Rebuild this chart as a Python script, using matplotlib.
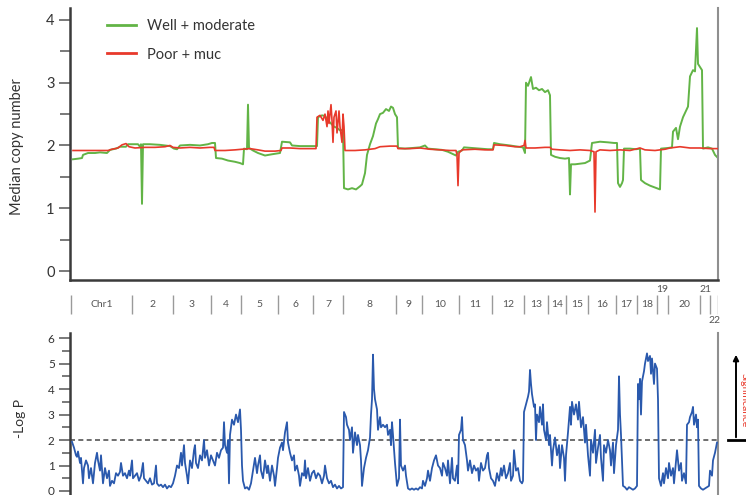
import numpy as np
import matplotlib
matplotlib.use("Agg")
import matplotlib.pyplot as plt
from matplotlib.ticker import MultipleLocator

plt.rcParams['font.family'] = ['Lato', 'DejaVu Sans']

# ---------------------------------------------------------------- data
# Chromosome boundaries along the genome position axis (bins)
chrom_names = ['Chr1', '2', '3', '4', '5', '6', '7', '8', '9', '10', '11',
               '12', '13', '14', '15', '16', '17', '18', '19', '20', '21', '22']
chrom_edges = [1, 62, 103, 141, 171, 208, 243, 273, 326, 352, 389, 422, 454,
               478, 496, 518, 546, 567, 587, 598, 630, 640, 648]
# label row: 0 = in line, 1 = raised, -1 = lowered (narrow chromosomes)
chrom_label_row = [0] * 18 + [1, 0, 1, -1]

# Median copy number, well + moderately differentiated tumours
well_pos = [3, 8, 12, 13, 18, 25, 30, 37, 40, 46, 50, 56, 58, 63, 68, 70, 71, 72, 73,
            80, 90, 100, 104, 107, 110, 120, 130, 138, 142, 145, 146, 152, 158, 165,
            170, 173, 174, 177, 178, 179, 183, 188, 195, 202, 210, 212, 220, 222, 230,
            240, 247, 248, 252, 255, 258, 261, 264, 267, 270, 273, 274, 278, 282, 286,
            290, 292, 295, 297, 300, 303, 306, 308, 310, 313, 316, 319, 321, 323, 325,
            327, 328, 335, 342, 350, 355, 358, 365, 372, 378, 382, 386, 388, 392, 394,
            402, 410, 418, 423, 424, 430, 440, 448, 453, 455, 456, 458, 461, 463, 466,
            469, 472, 475, 478, 480, 481, 485, 490, 495, 499, 500, 501, 505, 510, 515,
            520, 522, 530, 538, 544, 547, 548, 550, 552, 553, 554, 560, 566, 570, 571,
            575, 580, 585, 590, 591, 598, 602, 603, 606, 608, 610, 613, 616, 618, 620,
            623, 625, 627, 628, 630, 632, 633, 638, 642, 645, 648]
well_cn = [1.78, 1.79, 1.80, 1.85, 1.88, 1.88, 1.89, 1.88, 1.93, 1.95, 1.98, 1.98, 2.02,
           2.02, 2.02, 1.98, 2.02, 1.07, 2.02, 2.02, 2.01, 1.99, 1.95, 1.94, 2.00, 2.01,
           2.00, 2.02, 2.04, 2.04, 1.80, 1.79, 1.76, 1.74, 1.72, 1.70, 1.95, 1.94, 2.65,
           1.96, 1.92, 1.88, 1.84, 1.86, 1.88, 2.06, 2.05, 2.00, 1.99, 1.99, 1.99, 2.45,
           2.48, 2.47, 2.40, 2.35, 2.30, 2.28, 2.24, 2.25, 1.32, 1.30, 1.32, 1.30, 1.35,
           1.38, 1.56, 1.85, 2.02, 2.15, 2.35, 2.42, 2.50, 2.52, 2.58, 2.55, 2.62, 2.60,
           2.50, 2.45, 1.96, 1.95, 1.96, 1.97, 2.00, 1.95, 1.94, 1.93, 1.90, 1.87, 1.84,
           1.90, 1.92, 1.97, 1.96, 1.95, 1.94, 1.94, 2.04, 2.02, 2.00, 1.98, 1.97, 1.88,
           3.00, 2.95, 3.09, 2.90, 2.92, 2.88, 2.90, 2.85, 2.88, 2.80, 1.85, 1.82, 1.80,
           1.79, 1.80, 1.22, 1.70, 1.70, 1.71, 1.72, 1.76, 2.04, 2.06, 2.05, 2.04, 2.04,
           1.40, 1.34, 1.40, 1.45, 1.95, 1.95, 1.94, 1.95, 1.45, 1.40, 1.36, 1.33, 1.30,
           1.95, 1.96, 1.97, 2.22, 2.28, 2.10, 2.30, 2.45, 2.55, 2.62, 3.10, 3.20, 3.18,
           3.87, 3.30, 3.25, 3.20, 1.95, 1.97, 1.95, 1.85, 1.80]

# Median copy number, poorly differentiated + mucinous tumours
poor_pos = [3, 20, 38, 42, 48, 52, 56, 59, 65, 75, 85, 95, 100, 103, 110, 120, 130, 140,
            144, 145, 155, 165, 172, 180, 188, 195, 205, 211, 212, 220, 230, 240, 246,
            247, 250, 253, 255, 257, 258, 259, 261, 262, 263, 264, 266, 267, 269, 270,
            272, 273, 274, 275, 285, 295, 305, 310, 320, 327, 328, 340, 350, 360, 370,
            380, 386, 387, 388, 389, 392, 405, 415, 423, 424, 435, 445, 450, 454, 455,
            456, 465, 475, 480, 482, 490, 500, 510, 520, 524, 525, 526, 530, 540, 550,
            560, 565, 570, 575, 585, 595, 600, 610, 615, 620, 630, 640, 648]
poor_cn = [1.92, 1.92, 1.92, 1.94, 1.96, 2.01, 2.03, 1.98, 1.96, 1.97, 1.97, 1.98, 2.00,
           1.97, 1.96, 1.97, 1.96, 1.97, 1.97, 1.92, 1.92, 1.93, 1.94, 1.95, 1.93, 1.91,
           1.91, 1.92, 1.96, 1.96, 1.95, 1.95, 1.95, 2.45, 2.48, 2.40, 2.50, 2.30, 2.55,
           2.35, 2.65, 2.40, 2.05, 2.45, 2.55, 2.20, 2.55, 2.30, 2.05, 2.50, 2.30, 1.92,
           1.92, 1.93, 1.95, 1.98, 1.99, 1.99, 1.95, 1.95, 1.96, 1.94, 1.93, 1.92, 1.92,
           1.85, 1.36, 1.88, 1.93, 1.94, 1.93, 1.93, 2.01, 2.00, 1.98, 1.98, 2.00, 2.08,
           1.96, 1.96, 1.97, 1.97, 1.94, 1.93, 1.92, 1.93, 1.92, 1.90, 0.94, 1.90, 1.93,
           1.92, 1.93, 1.92, 1.94, 1.96, 1.93, 1.92, 1.94, 1.96, 1.98, 1.97, 1.96, 1.96,
           1.95, 1.95]

# -log10 P of the copy-number difference between the two groups
logp_pos = [2, 4, 6, 7, 8, 10, 11, 13, 14, 16, 18, 19, 21, 23, 25, 27, 28, 30, 31, 33,
            35, 37, 39, 40, 42, 44, 46, 48, 50, 51, 53, 55, 57, 59, 60, 62, 63, 65, 67,
            69, 71, 73, 74, 76, 78, 80, 82, 84, 86, 87, 89, 91, 93, 95, 97, 99, 101, 103,
            105, 107, 109, 111, 112, 114, 115, 117, 118, 120, 122, 124, 125, 126, 128,
            130, 132, 134, 135, 137, 139, 141, 143, 145, 147, 149, 151, 153, 154, 155,
            157, 158, 159, 160, 162, 164, 166, 168, 170, 171, 172, 173, 175, 177, 179,
            181, 183, 185, 187, 188, 190, 191, 193, 195, 197, 198, 200, 202, 204, 205,
            207, 208, 210, 212, 213, 215, 217, 218, 220, 222, 224, 225, 227, 229, 230,
            232, 234, 235, 236, 238, 240, 242, 244, 246, 248, 250, 252, 254, 255, 257,
            259, 261, 263, 265, 267, 269, 271, 273, 274, 276, 277, 279, 280, 282, 283,
            285, 287, 288, 290, 291, 292, 294, 296, 298, 300, 301, 302, 303, 304, 305,
            307, 308, 310, 311, 313, 315, 317, 318, 320, 321, 322, 323, 325, 327, 329,
            330, 331, 333, 335, 336, 338, 340, 342, 344, 346, 348, 350, 352, 353, 355,
            357, 358, 360, 362, 364, 366, 368, 370, 372, 373, 375, 377, 378, 380, 382,
            383, 385, 387, 388, 389, 391, 392, 393, 395, 397, 398, 400, 402, 404, 406,
            408, 409, 411, 413, 415, 417, 418, 419, 421, 423, 425, 427, 429, 431, 432,
            434, 436, 438, 440, 441, 443, 444, 446, 448, 450, 452, 453, 454, 456, 458,
            459, 460, 461, 462, 464, 465, 466, 467, 469, 470, 472, 473, 474, 476, 477,
            479, 480, 482, 483, 485, 487, 489, 490, 492, 494, 495, 496, 498, 500, 501,
            502, 504, 506, 508, 509, 511, 513, 515, 516, 518, 520, 521, 523, 525, 526,
            528, 530, 531, 533, 534, 536, 538, 540, 541, 543, 544, 546, 548, 549, 550,
            551, 552, 553, 555, 557, 559, 561, 563, 565, 567, 568, 569, 570, 571, 572,
            574, 575, 577, 578, 580, 581, 582, 584, 585, 587, 588, 589, 591, 593, 594,
            596, 598, 599, 601, 603, 604, 606, 607, 609, 611, 612, 614, 616, 617, 619,
            620, 622, 623, 624, 626, 627, 628, 629, 631, 633, 635, 637, 639, 640, 642,
            643, 645, 647]
logp = [1.93, 1.70, 1.40, 1.34, 1.55, 1.10, 1.30, 0.30, 0.90, 1.20, 1.00, 0.50, 0.90,
        0.30, 1.10, 1.50, 1.20, 0.80, 1.40, 0.30, 0.90, 0.50, 0.80, 0.20, 0.40, 0.30,
        0.70, 0.60, 0.75, 1.10, 0.60, 0.70, 0.50, 0.80, 0.60, 1.20, 0.50, 0.60, 0.70,
        0.40, 0.60, 1.10, 0.50, 0.40, 0.30, 0.50, 0.25, 0.30, 1.00, 0.30, 0.20, 0.25,
        0.15, 0.25, 0.10, 0.20, 0.15, 0.30, 0.60, 1.00, 0.90, 1.50, 1.00, 1.80, 1.10,
        0.60, 0.30, 1.20, 0.90, 1.60, 1.80, 1.10, 0.90, 1.40, 1.20, 2.00, 1.30, 1.60,
        1.00, 1.40, 1.20, 1.00, 1.50, 1.30, 1.60, 1.70, 2.70, 1.80, 1.50, 2.00, 0.30,
        2.20, 2.80, 2.60, 3.00, 2.70, 3.20, 2.40, 1.00, 0.40, 0.10, 0.15, 0.05, 0.30,
        0.80, 1.30, 0.70, 1.00, 1.40, 0.80, 0.50, 1.20, 0.70, 1.00, 0.40, 1.00, 0.60,
        0.20, 0.90, 1.30, 1.70, 1.90, 1.60, 2.30, 2.70, 1.90, 1.50, 1.20, 1.40, 0.80,
        1.00, 0.60, 0.20, 0.70, 0.60, 1.20, 0.50, 0.90, 0.40, 0.70, 0.80, 0.50, 0.70,
        0.60, 0.30, 0.60, 1.00, 0.50, 0.30, 0.40, 0.15, 0.25, 0.10, 0.20, 0.10, 0.15,
        3.10, 2.90, 2.60, 2.40, 2.00, 2.50, 1.50, 2.30, 1.80, 2.20, 1.80, 1.20, 0.20,
        0.90, 1.30, 1.60, 2.10, 3.00, 3.60, 5.35, 4.00, 3.60, 3.20, 2.40, 2.90, 2.50,
        2.60, 2.50, 2.60, 2.20, 2.40, 1.80, 2.70, 2.20, 1.10, 0.20, 0.50, 2.80, 1.00,
        0.80, 1.00, 0.60, 0.10, 0.05, 0.10, 0.05, 0.10, 0.05, 0.15, 0.10, 0.40, 0.20,
        0.50, 0.80, 0.40, 0.90, 1.20, 1.40, 1.00, 0.90, 0.60, 1.10, 0.90, 0.60, 1.20,
        0.30, 1.30, 0.50, 0.40, 1.00, 0.30, 2.20, 2.40, 2.90, 2.00, 1.80, 1.20, 0.80,
        1.20, 0.70, 1.00, 0.80, 0.90, 0.40, 1.10, 0.80, 0.90, 1.40, 1.50, 0.90, 0.50,
        0.40, 0.20, 0.70, 0.40, 0.90, 0.60, 1.00, 0.50, 0.70, 1.10, 0.40, 0.60, 1.60,
        0.80, 0.90, 0.40, 0.30, 0.40, 3.10, 3.40, 3.70, 3.90, 4.75, 4.20, 3.80, 3.30,
        3.40, 2.00, 3.00, 2.70, 3.30, 2.60, 3.40, 2.40, 2.00, 2.70, 1.80, 2.20, 1.00,
        1.60, 2.10, 1.40, 1.80, 0.90, 1.80, 1.30, 0.40, 1.40, 2.30, 3.30, 2.60, 3.50,
        3.00, 3.40, 2.80, 3.50, 2.50, 2.90, 1.90, 2.60, 1.40, 0.60, 2.00, 1.50, 2.40,
        1.10, 1.70, 2.20, 1.30, 0.40, 1.80, 1.50, 2.00, 1.60, 1.00, 1.90, 0.70, 1.80,
        2.40, 4.50, 3.00, 2.20, 1.20, 0.20, 0.15, 0.05, 0.15, 0.10, 0.05, 0.10, 0.20,
        4.20, 3.60, 4.40, 3.00, 4.30, 4.70, 5.00, 5.40, 5.10, 5.30, 4.60, 5.20, 4.20,
        5.00, 4.80, 3.60, 0.50, 0.20, 0.70, 0.30, 0.90, 0.50, 1.10, 0.60, 0.90, 0.30,
        1.20, 1.60, 0.80, 1.10, 0.40, 0.70, 0.30, 2.60, 2.70, 2.90, 3.10, 3.30, 2.60,
        3.00, 2.50, 2.80, 0.20, 0.10, 0.05, 0.10, 0.15, 0.20, 0.80, 0.60, 1.20, 1.50,
        1.90]

significance_cutoff = 2.0

# ---------------------------------------------------------------- styling
GREEN = '#62b446'
RED = '#e8392b'
BLUE = '#2a59ad'
DARK = '#3a3a3a'
GREY = '#8f8f8f'

W, H = 746, 495
fig = plt.figure(figsize=(W / 100, H / 100), dpi=100)


def fig_box(x0, y0, x1, y1):
    """Axes rectangle from pixel corners (top-left origin)."""
    return [x0 / W, 1 - y1 / H, (x1 - x0) / W, (y1 - y0) / H]


ax_cn = fig.add_axes(fig_box(70, 8, 718, 280))
ax_chr = fig.add_axes(fig_box(70, 286, 718, 328))
ax_p = fig.add_axes(fig_box(70, 333, 718, 495))

xlim = (0, chrom_edges[-1])

# ---- copy number panel
ax_cn.plot(well_pos, well_cn, color=GREEN, lw=1.4, label='Well + moderate', zorder=2)
ax_cn.plot(poor_pos, poor_cn, color=RED, lw=1.2, label='Poor + muc', zorder=3)
ax_cn.set_xlim(*xlim)
ax_cn.set_ylim(-0.143, 4.19)
ax_cn.yaxis.set_major_locator(MultipleLocator(1))
ax_cn.yaxis.set_minor_locator(MultipleLocator(0.5))
ax_cn.set_xticks([])
ax_cn.tick_params(axis='y', which='major', direction='out', length=8, width=1.1,
                  color='#555555', labelsize=10.5, labelcolor='#333333', pad=3)
ax_cn.tick_params(axis='y', which='minor', direction='out', length=7, width=1.1,
                  color='#555555')
ax_cn.spines['top'].set_visible(False)
for s in ('left', 'bottom'):
    ax_cn.spines[s].set_color(DARK)
    ax_cn.spines[s].set_linewidth(1.8)
ax_cn.spines['right'].set_color(GREY)
ax_cn.spines['right'].set_linewidth(1.5)
ax_cn.set_ylabel('Median copy number', fontsize=10.5, color='#333333')
ax_cn.yaxis.set_label_coords(-0.071, 0.49)

leg = ax_cn.legend(loc='upper left', bbox_to_anchor=(107 / W, 1 - 19 / H),
                   bbox_transform=fig.transFigure, frameon=False, fontsize=10.5,
                   handlelength=2.0, handletextpad=0.75, labelspacing=1.0,
                   borderpad=0, borderaxespad=0)
for line in leg.get_lines():
    line.set_linewidth(2.0)
for t in leg.get_texts():
    t.set_color('#333333')

# ---- chromosome strip
ax_chr.set_xlim(*xlim)
ax_chr.set_ylim(0, 1)
ax_chr.axis('off')
ax_chr.vlines(chrom_edges, 0.333, 0.786, color='#9a9a9a', lw=1.0)
row_y = {0: 0.55, 1: 0.92, -1: 0.17}
for name, lo, hi, row in zip(chrom_names, chrom_edges[:-1], chrom_edges[1:],
                             chrom_label_row):
    ax_chr.text((lo + hi) / 2, row_y[row], name, ha='center', va='center',
                fontsize=7.5, color='#555555')

# ---- -log P panel
ax_p.plot(logp_pos, logp, color=BLUE, lw=1.3, zorder=3)
ax_p.axhline(significance_cutoff, color='#555555', lw=1.2, ls=(0, (3, 2)), zorder=2)
ax_p.set_xlim(*xlim)
ax_p.set_ylim(-0.157, 6.2)
ax_p.yaxis.set_major_locator(MultipleLocator(1))
ax_p.yaxis.set_minor_locator(MultipleLocator(0.5))
ax_p.set_xticks([])
ax_p.tick_params(axis='y', which='major', direction='out', length=8, width=1.1,
                 color='#555555', labelsize=8.5, labelcolor='#333333', pad=3)
ax_p.tick_params(axis='y', which='minor', direction='out', length=6, width=1.1,
                 color='#555555')
ax_p.spines['top'].set_visible(False)
ax_p.spines['bottom'].set_visible(False)
ax_p.spines['left'].set_color(DARK)
ax_p.spines['left'].set_linewidth(1.8)
ax_p.spines['right'].set_color(GREY)
ax_p.spines['right'].set_linewidth(1.5)
ax_p.set_ylabel('-Log P', fontsize=10, color='#333333')
ax_p.yaxis.set_label_coords(-0.068, 0.475)

# significance arrow at the right margin
y_cut = ax_p.transData.transform((0, significance_cutoff))[1]
fig.add_artist(plt.Line2D([728 / W, 1.0], [y_cut / H, y_cut / H],
                          transform=fig.transFigure, color='black', lw=2.0))
fig.add_artist(matplotlib.patches.FancyArrowPatch(
    (736 / W, y_cut / H), (736 / W, 1 - 352 / H), transform=fig.transFigure,
    arrowstyle='-|>', mutation_scale=8, color='black', lw=1.4))
fig.text(744 / W, 1 - 400 / H, 'Significance', rotation=270, ha='center',
         va='center', fontsize=7.5, color=RED)

fig.savefig('out.png', dpi=100)
